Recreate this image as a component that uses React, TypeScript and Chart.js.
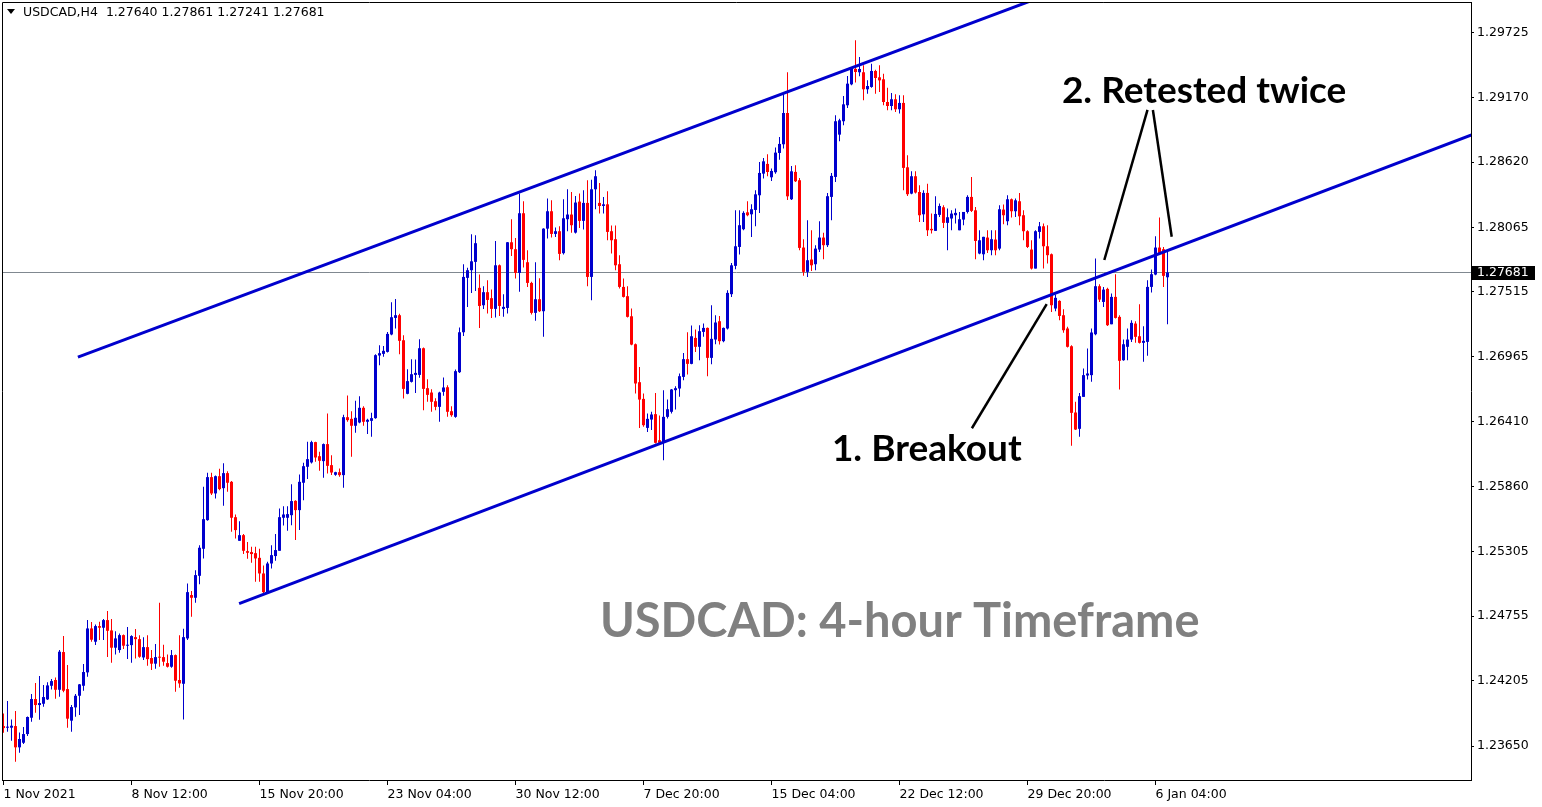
import React, { useEffect, useRef } from "react";
import { Chart, registerables } from "chart.js";

Chart.register(...registerables);

const SYMBOL = "USDCAD,H4";

const openPrices = [
1.23820,1.23806,1.23806,1.23820,1.23639,1.23678,1.23752,1.23891,1.24050,1.23999,
1.24010,1.24047,1.24163,1.24212,1.24129,1.24450,1.24135,1.23866,1.23979,1.24078,
1.24163,1.24277,1.24651,1.24538,1.24671,1.24657,1.24722,1.24634,1.24487,1.24467,
1.24594,1.24504,1.24509,1.24577,1.24560,1.24404,1.24492,1.24399,1.24351,1.24407,
1.24407,1.24356,1.24325,1.24424,1.24212,1.24180,1.24566,1.24935,1.24912,1.25099,
1.25329,1.25573,1.25939,1.25800,1.25947,1.25845,1.25973,1.25899,1.25598,1.25397,
1.25445,1.25309,1.25301,1.25292,1.25252,1.25119,1.24960,1.25204,1.25267,1.25312,
1.25593,1.25593,1.25615,1.25737,1.25658,1.25891,1.26027,1.26064,1.26237,1.26117,
1.26075,1.26220,1.26041,1.25959,1.25981,1.25956,1.26449,1.26435,1.26376,1.26404,
1.26529,1.26410,1.26418,1.26441,1.26974,1.26988,1.27005,1.27153,1.27294,1.27317,
1.27104,1.26648,1.26750,1.26809,1.26809,1.27036,1.26696,1.26659,1.26585,1.26537,
1.26665,1.26704,1.26500,1.26452,1.26832,1.27172,1.27635,1.27700,1.27771,1.27550,
1.27402,1.27513,1.27462,1.27371,1.27742,1.27371,1.27379,1.27938,1.27879,1.27677,
1.28185,1.27768,1.27592,1.27337,1.27453,1.27351,1.28054,1.28202,1.28009,1.28032,
1.27845,1.28134,1.28174,1.28020,1.28284,1.28120,1.28273,1.27643,1.28389,1.28273,
1.28247,1.28261,1.28032,1.27964,1.27751,1.27558,1.27479,1.27308,1.27070,1.26747,
1.26605,1.26358,1.26429,1.26475,1.26253,1.26231,1.26452,1.26495,1.26679,1.26693,
1.26792,1.26943,1.26903,1.27124,1.27048,1.27175,1.27209,1.26954,1.27110,1.27266,
1.27096,1.27204,1.27496,1.27737,1.27898,1.28049,1.28193,1.28176,1.28213,1.28338,
1.28522,1.28605,1.28491,1.28534,1.28698,1.28772,1.29038,1.28304,1.28537,1.28466,
1.27893,1.27686,1.27791,1.27751,1.27876,1.27978,1.27913,1.28324,1.28494,1.28854,
1.28968,1.29104,1.29282,1.29413,1.29385,1.29385,1.29240,1.29260,1.29396,1.29342,
1.29325,1.29132,1.29098,1.29155,1.29070,1.29124,1.28576,1.28352,1.28500,1.28366,
1.28176,1.28358,1.28052,1.28035,1.28171,1.28236,1.28103,1.28140,1.28168,1.28040,
1.28131,1.28196,1.28324,1.28210,1.27842,1.27836,1.27978,1.27870,1.27961,1.27884,
1.28216,1.28117,1.28304,1.28202,1.28287,1.28168,1.28032,1.27876,1.27714,1.28026,
1.28074,1.27904,1.27836,1.27374,1.27439,1.27317,1.27204,1.27053,1.26489,1.26350,
1.26622,1.26804,1.26807,1.27155,1.27564,1.27430,1.27541,1.27240,1.27473,1.27303,
1.26934,1.27048,1.27110,1.27246,1.27138,1.27082,1.27090,1.27558,1.27663,1.27893,
1.27879,1.27640];

const highPrices = [
1.23928,1.24033,1.23877,1.23948,1.23766,1.23812,1.23902,1.24092,1.24186,1.24246,
1.24169,1.24192,1.24220,1.24234,1.24467,1.24586,1.24339,1.23999,1.24092,1.24178,
1.24348,1.24722,1.24705,1.24685,1.24708,1.24731,1.24799,1.24731,1.24628,1.24609,
1.24600,1.24663,1.24594,1.24646,1.24592,1.24577,1.24594,1.24467,1.24518,1.24869,
1.24512,1.24430,1.24467,1.24430,1.24594,1.24648,1.25034,1.24969,1.25147,1.25360,
1.25856,1.25976,1.25976,1.25953,1.26010,1.26058,1.25990,1.25905,1.25621,1.25564,
1.25454,1.25386,1.25346,1.25346,1.25329,1.25187,1.25218,1.25360,1.25454,1.25672,
1.25692,1.25692,1.25879,1.25743,1.25961,1.26061,1.26239,1.26248,1.26240,1.26154,
1.26225,1.26480,1.26126,1.25984,1.26013,1.26469,1.26634,1.26500,1.26588,1.26628,
1.26543,1.26435,1.26486,1.26985,1.27062,1.27056,1.27175,1.27428,1.27455,1.27330,
1.27147,1.26858,1.26943,1.26940,1.27113,1.27042,1.26773,1.26687,1.26611,1.26665,
1.26787,1.26721,1.26543,1.26855,1.27212,1.27751,1.27720,1.28006,1.27998,1.27663,
1.27564,1.27615,1.27535,1.27949,1.27748,1.27496,1.27941,1.28134,1.27975,1.28352,
1.28287,1.27870,1.27601,1.27768,1.27632,1.28057,1.28310,1.28295,1.28063,1.28074,
1.28304,1.28389,1.28366,1.28332,1.28352,1.28381,1.28466,1.28471,1.28551,1.28443,
1.28324,1.28372,1.28080,1.28080,1.27827,1.27629,1.27564,1.27374,1.27076,1.26877,
1.26651,1.26480,1.26495,1.26656,1.26463,1.26679,1.26599,1.26690,1.26713,1.26821,
1.26996,1.27172,1.27229,1.27195,1.27232,1.27246,1.27213,1.27402,1.27317,1.27311,
1.27213,1.27530,1.27762,1.28210,1.28210,1.28202,1.28287,1.28261,1.28380,1.28622,
1.28656,1.28687,1.28565,1.28744,1.28834,1.29217,1.29385,1.28588,1.28593,1.28485,
1.27964,1.28125,1.28040,1.27913,1.28117,1.28018,1.28358,1.28528,1.29019,1.28990,
1.29183,1.29353,1.29430,1.29657,1.29515,1.29444,1.29316,1.29458,1.29407,1.29444,
1.29373,1.29254,1.29209,1.29197,1.29189,1.29189,1.28678,1.28542,1.28542,1.28423,
1.28381,1.28437,1.28182,1.28330,1.28267,1.28253,1.28225,1.28210,1.28225,1.28196,
1.28196,1.28338,1.28494,1.28239,1.28040,1.27984,1.28040,1.28040,1.28040,1.28253,
1.28259,1.28338,1.28310,1.28310,1.28358,1.28210,1.28040,1.27955,1.28040,1.28111,
1.28097,1.28083,1.27842,1.27493,1.27445,1.27368,1.27218,1.27062,1.26580,1.26656,
1.26863,1.27033,1.27204,1.27799,1.27581,1.27558,1.27550,1.27501,1.27666,1.27317,
1.27110,1.27204,1.27275,1.27266,1.27411,1.27223,1.27615,1.27706,1.27989,1.28148,
1.27898,1.27861];

const lowPrices = [
1.23763,1.23772,1.23695,1.23517,1.23593,1.23667,1.23735,1.23857,1.23934,1.23874,
1.23985,1.24041,1.24132,1.24053,1.24070,1.24107,1.23806,1.23772,1.23900,1.23914,
1.24121,1.24240,1.24538,1.24509,1.24552,1.24552,1.24407,1.24359,1.24430,1.24444,
1.24475,1.24390,1.24359,1.24396,1.24402,1.24382,1.24334,1.24297,1.24308,1.24325,
1.24334,1.24319,1.24317,1.24112,1.24146,1.23877,1.24552,1.24750,1.24869,1.25028,
1.25247,1.25567,1.25786,1.25757,1.25828,1.25695,1.25814,1.25474,1.25417,1.25397,
1.25284,1.25244,1.25210,1.25048,1.25048,1.24935,1.24949,1.25162,1.25227,1.25312,
1.25528,1.25482,1.25530,1.25403,1.25488,1.25743,1.25922,1.26055,1.26069,1.25993,
1.25933,1.25970,1.25956,1.25950,1.25942,1.25848,1.26410,1.26112,1.26316,1.26398,
1.26376,1.26305,1.26282,1.26435,1.26892,1.26963,1.26999,1.27147,1.27205,1.26985,
1.26608,1.26645,1.26744,1.26656,1.26784,1.26509,1.26580,1.26495,1.26509,1.26410,
1.26631,1.26452,1.26452,1.26444,1.26826,1.27141,1.27388,1.27507,1.27524,1.27209,
1.27371,1.27331,1.27294,1.27297,1.27311,1.27303,1.27331,1.27822,1.27629,1.27516,
1.27723,1.27558,1.27323,1.27269,1.27345,1.27133,1.27969,1.27978,1.27983,1.27785,
1.27833,1.28032,1.28018,1.28012,1.28060,1.28046,1.27564,1.27445,1.28219,1.28182,
1.28182,1.27955,1.27842,1.27700,1.27544,1.27467,1.27297,1.27062,1.26651,1.26358,
1.26367,1.26324,1.26339,1.26225,1.26225,1.26083,1.26438,1.26480,1.26514,1.26622,
1.26764,1.26812,1.26900,1.27005,1.26934,1.27133,1.26798,1.26900,1.27070,1.27067,
1.27087,1.27195,1.27473,1.27708,1.27833,1.28040,1.28159,1.27983,1.28074,1.28188,
1.28480,1.28500,1.28460,1.28522,1.28641,1.28735,1.28298,1.28298,1.28451,1.27870,
1.27652,1.27643,1.27694,1.27700,1.27856,1.27794,1.27898,1.28125,1.28451,1.28797,
1.28934,1.29081,1.29274,1.29297,1.29350,1.29146,1.29203,1.29254,1.29203,1.29217,
1.29104,1.29061,1.29061,1.29047,1.29033,1.28381,1.28332,1.28347,1.28352,1.28111,
1.28111,1.27992,1.28012,1.28035,1.28154,1.28060,1.27870,1.28040,1.28097,1.28040,
1.28083,1.28182,1.28196,1.27794,1.27836,1.27785,1.27847,1.27828,1.27828,1.27870,
1.28091,1.28083,1.28148,1.28154,1.28083,1.27955,1.27890,1.27706,1.27714,1.27969,
1.27714,1.27757,1.27345,1.27351,1.27275,1.27167,1.27042,1.26205,1.26339,1.26282,
1.26622,1.26770,1.26750,1.27147,1.27430,1.27388,1.27226,1.27240,1.27289,1.26685,
1.26929,1.26934,1.27090,1.27082,1.27076,1.26920,1.26971,1.27510,1.27657,1.27836,
1.27558,1.27241];

const closePrices = [
1.23803,1.23815,1.23823,1.23639,1.23710,1.23752,1.23897,1.24050,1.23999,1.24016,
1.24067,1.24166,1.24203,1.24129,1.24453,1.24121,1.23883,1.23982,1.24078,1.24175,
1.24280,1.24651,1.24555,1.24671,1.24657,1.24722,1.24631,1.24487,1.24566,1.24594,
1.24504,1.24509,1.24586,1.24560,1.24410,1.24492,1.24390,1.24351,1.24407,1.24402,
1.24368,1.24325,1.24424,1.24206,1.24183,1.24577,1.24960,1.24912,1.25105,1.25338,
1.25581,1.25939,1.25800,1.25947,1.25837,1.25973,1.25891,1.25593,1.25488,1.25445,
1.25312,1.25295,1.25284,1.25247,1.25119,1.24960,1.25204,1.25275,1.25318,1.25598,
1.25621,1.25624,1.25735,1.25658,1.25899,1.26032,1.26092,1.26237,1.26106,1.26078,
1.26220,1.26035,1.25978,1.25981,1.25956,1.26449,1.26424,1.26376,1.26444,1.26529,
1.26410,1.26427,1.26441,1.26977,1.26994,1.27014,1.27158,1.27300,1.27317,1.27099,
1.26690,1.26756,1.26815,1.26826,1.27036,1.26690,1.26639,1.26580,1.26537,1.26659,
1.26702,1.26495,1.26466,1.26841,1.27172,1.27643,1.27700,1.27776,1.27930,1.27396,
1.27513,1.27447,1.27371,1.27742,1.27396,1.27388,1.27938,1.27879,1.27677,1.28185,
1.27788,1.27592,1.27337,1.27453,1.27351,1.28054,1.28202,1.28009,1.28032,1.27839,
1.28142,1.28174,1.28083,1.28276,1.28120,1.28273,1.27643,1.28389,1.28500,1.28247,
1.28261,1.28026,1.27955,1.27742,1.27558,1.27473,1.27303,1.27067,1.26736,1.26599,
1.26381,1.26435,1.26472,1.26231,1.26231,1.26452,1.26517,1.26685,1.26696,1.26798,
1.26943,1.26903,1.27138,1.27048,1.27181,1.27209,1.26954,1.27116,1.27255,1.27096,
1.27209,1.27507,1.27742,1.27904,1.28083,1.28188,1.28168,1.28219,1.28346,1.28528,
1.28627,1.28536,1.28545,1.28701,1.28775,1.29038,1.28329,1.28542,1.28457,1.27890,
1.27686,1.27785,1.27742,1.27884,1.27978,1.27913,1.28330,1.28503,1.28968,1.28976,
1.29112,1.29288,1.29413,1.29387,1.29413,1.29240,1.29268,1.29396,1.29336,1.29316,
1.29132,1.29098,1.29155,1.29070,1.29124,1.28571,1.28347,1.28500,1.28361,1.28168,
1.28358,1.28040,1.28040,1.28179,1.28247,1.28103,1.28151,1.28182,1.28188,1.28134,
1.28196,1.28324,1.28205,1.27949,1.27955,1.27984,1.27870,1.27964,1.27870,1.28219,
1.28168,1.28304,1.28202,1.28295,1.28159,1.28032,1.27898,1.27714,1.28032,1.28074,
1.27904,1.27828,1.27402,1.27465,1.27311,1.27189,1.27048,1.26486,1.26344,1.26628,
1.26807,1.26821,1.27170,1.27564,1.27450,1.27535,1.27232,1.27473,1.27294,1.26929,
1.27070,1.27110,1.27252,1.27133,1.27082,1.27099,1.27558,1.27666,1.27893,1.27847,
1.27652,1.27681];

const timeTickIndex = [0, 32, 64, 96, 128, 160, 192, 224, 256, 288];
const timeTickLabels = [
  "1 Nov 2021", "8 Nov 12:00", "15 Nov 20:00", "23 Nov 04:00", "30 Nov 12:00",
  "7 Dec 20:00", "15 Dec 04:00", "22 Dec 12:00", "29 Dec 20:00", "6 Jan 04:00",
];
const priceTicks = [
  1.2365, 1.24205, 1.24755, 1.25305, 1.2586, 1.2641,
  1.26965, 1.27515, 1.28065, 1.2862, 1.2917, 1.29725,
];

// channel lines (bar index, price)
const upperChannel = [{ x: 18.6, y: 1.26961 }, { x: 260, y: 1.30033 }];
const lowerChannel = [{ x: 58.9, y: 1.24863 }, { x: 368, y: 1.28865 }];

// pointer lines (bar index, price)
const breakoutPointer = [{ x: 242.1, y: 1.26355 }, { x: 260.8, y: 1.27412 }];
const retestPointerA = [{ x: 286.0, y: 1.29064 }, { x: 275.2, y: 1.27787 }];
const retestPointerB = [{ x: 287.35, y: 1.29064 }, { x: 292.05, y: 1.27985 }];

const annotationTexts = [
  { text: "2. Retested twice", x: 264.6, y: 1.29123, font: "bold 37px Lato", color: "#000000" },
  { text: "1. Breakout", x: 207.1, y: 1.26076, font: "bold 37px Lato", color: "#000000" },
  { text: "USDCAD: 4-hour Timeframe", x: 149.1, y: 1.24578, font: "bold 47px Lato", color: "#808080" },
];

const X_MIN = -0.375;
const X_MAX = 366.875;
const Y_MIN = 1.23361;
const Y_MAX = 1.29983;

const BLUE = "#0000CD";
const RED = "#FF0000";
const AXIS_FONT = '"DejaVu Sans"';

export default function App() {
  const ref = useRef<HTMLCanvasElement | null>(null);

  useEffect(() => {
    document.body.style.margin = "0";
    const canvas = ref.current;
    if (!canvas) return;

    const n = closePrices.length;
    const colors = closePrices.map((c, i) => (c >= openPrices[i] ? BLUE : RED));
    const wickData = closePrices.map((_, i) => ({ x: i, y: [lowPrices[i], highPrices[i]] }));
    const bodyData = closePrices.map((c, i) => ({ x: i, y: [openPrices[i], c] }));
    const lastO = openPrices[n - 1];
    const lastH = highPrices[n - 1];
    const lastL = lowPrices[n - 1];
    const lastC = closePrices[n - 1];

    const overlay = {
      id: "overlay",
      beforeDatasetsDraw(chart: any) {
        const { ctx, chartArea: a, scales } = chart;
        const py = Math.round(scales.y.getPixelForValue(lastC)) + 0.5;
        ctx.save();
        ctx.strokeStyle = "#808890";
        ctx.lineWidth = 1;
        ctx.beginPath();
        ctx.moveTo(a.left, py);
        ctx.lineTo(a.right, py);
        ctx.stroke();
        ctx.restore();
      },
      afterDatasetsDraw(chart: any) {
        const { ctx, scales } = chart;
        ctx.save();
        ctx.textBaseline = "alphabetic";
        ctx.textAlign = "left";
        for (const t of annotationTexts) {
          ctx.font = t.font;
          ctx.fillStyle = t.color;
          ctx.fillText(t.text, scales.x.getPixelForValue(t.x), scales.y.getPixelForValue(t.y));
        }
        ctx.restore();
      },
      afterDraw(chart: any) {
        const { ctx, chartArea: a, scales } = chart;
        ctx.save();
        // frame
        ctx.strokeStyle = "#000";
        ctx.lineWidth = 1;
        ctx.beginPath();
        ctx.moveTo(a.left + 0.5, a.bottom);
        ctx.lineTo(a.left + 0.5, a.top + 0.5);
        ctx.lineTo(a.right, a.top + 0.5);
        ctx.stroke();
        // header
        ctx.fillStyle = "#000";
        ctx.beginPath();
        ctx.moveTo(7, 9);
        ctx.lineTo(15, 9);
        ctx.lineTo(11, 14);
        ctx.closePath();
        ctx.fill();
        ctx.font = `12.5px ${AXIS_FONT}`;
        ctx.textBaseline = "middle";
        ctx.textAlign = "left";
        ctx.fillText(
          `${SYMBOL}  ${lastO.toFixed(5)} ${lastH.toFixed(5)} ${lastL.toFixed(5)} ${lastC.toFixed(5)}`,
          23,
          13
        );
        // current price box
        const py = Math.round(scales.y.getPixelForValue(lastC));
        ctx.fillStyle = "#000";
        ctx.fillRect(a.right + 1, py - 6, 63, 14);
        ctx.fillStyle = "#fff";
        ctx.fillText(lastC.toFixed(5), a.right + 6, py + 1);
        ctx.restore();
      },
    };

    const lineDs = (data: any, color: string, width: number) => ({
      type: "line" as const,
      data,
      borderColor: color,
      borderWidth: width,
      pointRadius: 0,
      fill: false,
      order: 0,
    });

    const chart = new Chart(canvas, {
      type: "bar",
      data: {
        datasets: [
          lineDs(upperChannel, BLUE, 3),
          lineDs(lowerChannel, BLUE, 3),
          lineDs(breakoutPointer, "#000", 2.5),
          lineDs(retestPointerA, "#000", 2.5),
          lineDs(retestPointerB, "#000", 2.5),
          {
            type: "bar",
            data: bodyData as any,
            backgroundColor: colors,
            borderWidth: 0,
            barThickness: 3,
            grouped: false,
            minBarLength: 1,
            inflateAmount: 0,
            order: 1,
          } as any,
          {
            type: "bar",
            data: wickData as any,
            backgroundColor: colors,
            borderWidth: 0,
            barThickness: 1,
            grouped: false,
            minBarLength: 1,
            inflateAmount: 0,
            order: 2,
          } as any,
        ],
      },
      options: {
        animation: false,
        responsive: false,
        events: [],
        layout: { padding: { left: 2, top: 2, right: 0, bottom: 0 } },
        plugins: { legend: { display: false }, tooltip: { enabled: false } },
        scales: {
          x: {
            type: "linear",
            min: X_MIN,
            max: X_MAX,
            offset: false,
            grid: { display: true, drawOnChartArea: false, offset: false, tickLength: 5, tickColor: "#000" },
            border: { display: true, color: "#000" },
            afterBuildTicks: (s: any) => {
              s.ticks = timeTickIndex.map((v) => ({ value: v }));
            },
            afterFit: (s: any) => {
              s.height = 27;
              s.paddingLeft = 0;
              s.paddingRight = 0;
            },
            ticks: {
              autoSkip: false,
              maxRotation: 0,
              minRotation: 0,
              align: "start",
              padding: 2,
              color: "#000",
              font: { family: AXIS_FONT, size: 12.5 },
              callback: (v: any) => {
                const k = timeTickIndex.indexOf(Number(v));
                return k >= 0 ? timeTickLabels[k] : "";
              },
            },
          },
          y: {
            type: "linear",
            position: "right",
            min: Y_MIN,
            max: Y_MAX,
            grid: { display: true, drawOnChartArea: false, tickLength: 3, tickColor: "#000" },
            border: { display: true, color: "#000" },
            afterBuildTicks: (s: any) => {
              s.ticks = priceTicks.map((v) => ({ value: v }));
            },
            afterFit: (s: any) => {
              s.width = 71;
              s.paddingTop = 0;
              s.paddingBottom = 0;
            },
            ticks: {
              autoSkip: false,
              padding: 3,
              color: "#000",
              font: { family: AXIS_FONT, size: 12.5 },
              callback: (v: any) => Number(v).toFixed(5),
            },
          },
        },
      } as any,
      plugins: [overlay],
    });

    return () => chart.destroy();
  }, []);

  return (
    <div style={{ width: 1542, height: 807, background: "#fff" }}>
      <canvas ref={ref} width={1542} height={807} style={{ display: "block", width: 1542, height: 807 }} />
    </div>
  );
}
